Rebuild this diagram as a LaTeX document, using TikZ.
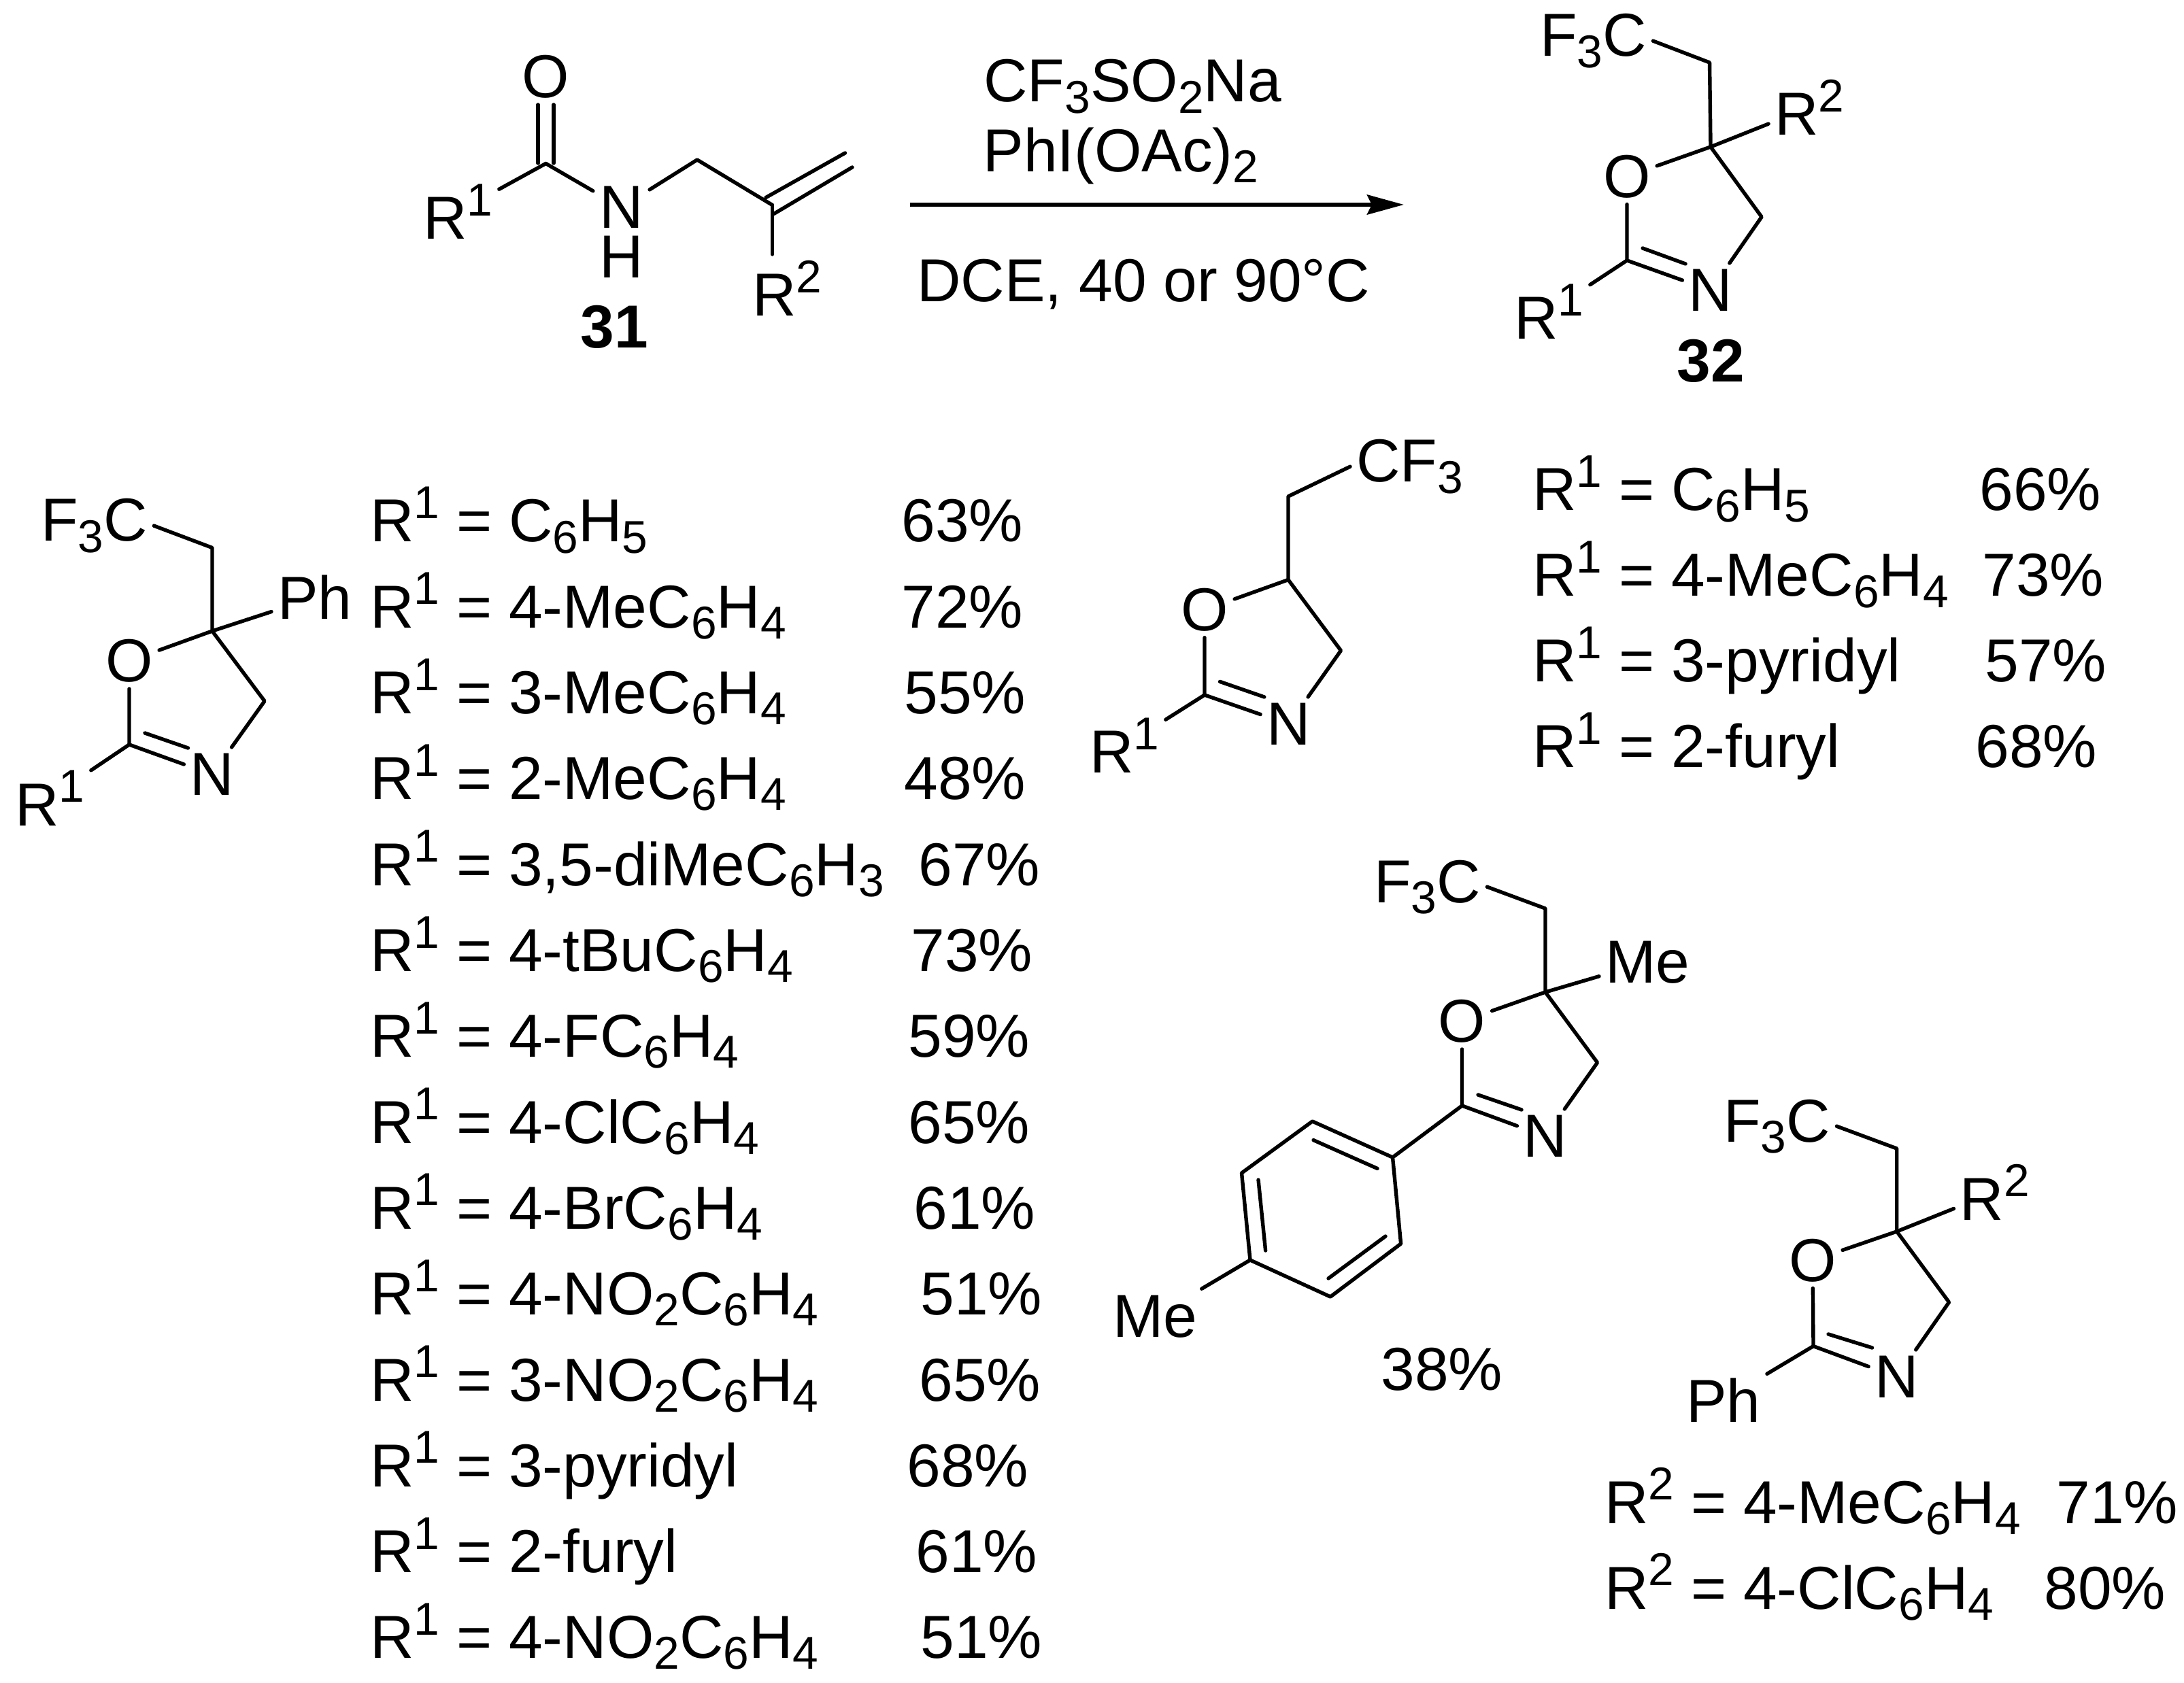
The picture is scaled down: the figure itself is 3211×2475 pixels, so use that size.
\documentclass[tikz,border=0pt]{standalone}
\usepackage{fontspec}
\setmainfont{Liberation Sans}
\usetikzlibrary{arrows.meta}
\newcommand{\sups}[1]{\raisebox{.386em}{\fontsize{9.4}{10}\selectfont #1}}
\newcommand{\subs}[1]{\raisebox{-.18em}{\fontsize{9.4}{10}\selectfont #1}}
\begin{document}
\begin{tikzpicture}[
    x=0.0048832cm, y=-0.0048832cm,
    font=\fontsize{12.4}{14}\selectfont,
    bond/.style={line width=0.75pt, line cap=round, line join=round},
    atom/.style={inner sep=1.1pt},
    grp/.style={inner sep=1.1pt, anchor=base west},
    tbl/.style={inner sep=0pt, anchor=base west},
    rxn/.style={line width=0.83pt, -{Stealth[length=0.264cm, width=0.142cm, inset=0.034cm]}}
]
    \useasboundingbox (0,0) rectangle (3211,2475);

    % Substrate 31
    \node[atom] (o31) at (802.5,113) {O};
    \node[atom] (n31) at (913.5,305) {N};
    \node[atom, inner sep=0pt] (h31) at (913.5,378) {H};
    \node[grp] (ra31) at (613,352) {R\sups{1}};
    \node[grp] (rb31) at (1097,465) {R\sups{2}};
    \node[tbl, font=\fontsize{12.4}{14}\selectfont\bfseries] (lab31) at (852,512) {31};
    \coordinate (co31) at (802.5,240.5);
    \coordinate (cha31) at (1025,235);
    \coordinate (cv31) at (1135.5,301.5);
    \coordinate (dba31) at (791,240);
    \coordinate (dbb31) at (814,240);
    \coordinate (ena31) at (1126,290.5);
    \coordinate (enb31) at (1242.5,225);
    \coordinate (enc31) at (1137.7,314.5);
    \coordinate (end31) at (1253,246);
    \draw[bond] (dba31) -- (dba31 |- o31.south);
    \draw[bond] (dbb31) -- (dbb31 |- o31.south);
    \draw[bond] (co31) -- (ra31);
    \draw[bond] (co31) -- (n31);
    \draw[bond] (n31) -- (cha31) -- (cv31);
    \draw[bond] (ena31) -- (enb31);
    \draw[bond] (enc31) -- (end31);
    \draw[bond] (cv31) -- (cv31 |- rb31.north);

    % Reaction arrow and conditions
    \coordinate (arra) at (1338,301);
    \coordinate (arrb) at (2064,301);
    \draw[rxn] (arra) -- (arrb);
    \node[tbl] (reaga) at (1445,150) {CF\subs{3}SO\subs{2}Na};
    \node[tbl] (reagb) at (1444,252.7) {PhI(OAc)\subs{2}};
    \node[tbl] (reagc) at (1347,444) {DCE, 40 or 90°C};

    % Product 32
    \node[atom] (o32) at (2392,259.5) {O};
    \node[atom] (n32) at (2515,427) {N};
    \node[grp] (f32) at (2255,83) {F\subs{3}C};
    \node[grp] (rb32) at (2600,199) {R\sups{2}};
    \node[grp] (ra32) at (2217,499) {R\sups{1}};
    \node[tbl, font=\fontsize{12.4}{14}\selectfont\bfseries] (lab32) at (2464,562) {32};
    \coordinate (cq32) at (2515,216);
    \coordinate (cha32) at (2513.5,92);
    \coordinate (chb32) at (2590,319);
    \coordinate (cc32) at (2392,383);
    \coordinate (dba32) at (2415,365);
    \coordinate (dbb32) at (2478,388);
    \draw[bond] (f32.east) -- (cha32) -- (cq32);
    \draw[bond] (cq32) -- (rb32);
    \draw[bond] (cq32) -- (o32);
    \draw[bond] (cq32) -- (chb32) -- (n32);
    \draw[bond] (o32) -- (cc32) -- (n32);
    \draw[bond] (dba32) -- (dbb32);
    \draw[bond] (cc32) -- (ra32);

    % Phenyl oxazoline and its list
    \node[atom] (o1) at (190,972) {O};
    \node[atom] (n1) at (312,1139) {N};
    \node[grp] (f1) at (51,796) {F\subs{3}C};
    \node[grp] (ph1) at (399,911) {Ph};
    \node[grp] (ra1) at (13,1214) {R\sups{1}};
    \coordinate (cq1) at (312,928);
    \coordinate (cha1) at (312,805.5);
    \coordinate (chb1) at (389,1031);
    \coordinate (cc1) at (190,1095);
    \coordinate (dba1) at (213,1078);
    \coordinate (dbb1) at (276.5,1100);
    \draw[bond] (f1.east) -- (cha1) -- (cq1);
    \draw[bond] (cq1) -- (ph1);
    \draw[bond] (cq1) -- (o1);
    \draw[bond] (cq1) -- (chb1) -- (n1);
    \draw[bond] (o1) -- (cc1) -- (n1);
    \draw[bond] (dba1) -- (dbb1);
    \draw[bond] (cc1) -- (ra1);
    \foreach \i/\grpname/\yld/\yx in {
        0/{C\subs{6}H\subs{5}}/63/1324, 1/{4-MeC\subs{6}H\subs{4}}/72/1324,
        2/{3-MeC\subs{6}H\subs{4}}/55/1328, 3/{2-MeC\subs{6}H\subs{4}}/48/1328,
        4/{3,5-diMeC\subs{6}H\subs{3}}/67/1349, 5/{4-tBuC\subs{6}H\subs{4}}/73/1338,
        6/{4-FC\subs{6}H\subs{4}}/59/1334, 7/{4-ClC\subs{6}H\subs{4}}/65/1334,
        8/{4-BrC\subs{6}H\subs{4}}/61/1342, 9/{4-NO\subs{2}C\subs{6}H\subs{4}}/51/1352,
        10/{3-NO\subs{2}C\subs{6}H\subs{4}}/65/1350, 11/{3-pyridyl}/68/1332,
        12/{2-furyl}/61/1345, 13/{4-NO\subs{2}C\subs{6}H\subs{4}}/51/1352} {
        \pgfmathsetmacro{\yy}{797+126.3*\i}
        \node[tbl] (rowa\i) at (543,\yy) {R\sups{1} = \grpname};
        \node[tbl] (ylda\i) at (\yx,\yy) {\yld\%};
    }

    % CF3 oxazoline and its list
    \node[atom] (o2) at (1771,896.7) {O};
    \node[atom] (n2) at (1894.7,1065) {N};
    \node[grp] (f2) at (1985,709) {CF\subs{3}};
    \node[grp] (ra2) at (1593,1137) {R\sups{1}};
    \coordinate (cq2) at (1894,852.6);
    \coordinate (cha2) at (1894,730);
    \coordinate (chb2) at (1971.4,956.7);
    \coordinate (cc2) at (1771,1022);
    \coordinate (dba2) at (1793.5,1002.4);
    \coordinate (dbb2) at (1858.8,1025);
    \draw[bond] (f2.west) -- (cha2) -- (cq2);
    \draw[bond] (cq2) -- (o2);
    \draw[bond] (cq2) -- (chb2) -- (n2);
    \draw[bond] (o2) -- (cc2) -- (n2);
    \draw[bond] (dba2) -- (dbb2);
    \draw[bond] (cc2) -- (ra2);
    \foreach \i/\grpname/\yld/\yx in {
        0/{C\subs{6}H\subs{5}}/66/2909, 1/{4-MeC\subs{6}H\subs{4}}/73/2913,
        2/{3-pyridyl}/57/2917, 3/{2-furyl}/68/2903} {
        \pgfmathsetmacro{\yy}{751+126*\i}
        \node[tbl] (rowb\i) at (2252,\yy) {R\sups{1} = \grpname};
        \node[tbl] (yldb\i) at (\yx,\yy) {\yld\%};
    }

    % Tolyl oxazoline
    \node[atom] (o3) at (2149.5,1502) {O};
    \node[atom] (n3) at (2272,1671) {N};
    \node[grp] (f3) at (2011,1327) {F\subs{3}C};
    \node[grp] (me3) at (2351,1445) {Me};
    \node[grp] (mea3) at (1627,1966) {Me};
    \node[tbl] (yld3) at (2029,2044) {38\%};
    \coordinate (cq3) at (2272,1459);
    \coordinate (cha3) at (2272,1336);
    \coordinate (chb3) at (2348.5,1562.6);
    \coordinate (cc3) at (2149.5,1626);
    \coordinate (dba3) at (2173,1610);
    \coordinate (dbb3) at (2237,1632);
    \draw[bond] (f3.east) -- (cha3) -- (cq3);
    \draw[bond] (cq3) -- (me3);
    \draw[bond] (cq3) -- (o3);
    \draw[bond] (cq3) -- (chb3) -- (n3);
    \draw[bond] (o3) -- (cc3) -- (n3);
    \draw[bond] (dba3) -- (dbb3);
    \coordinate (ara) at (2047.5,1702);
    \coordinate (arb) at (1929.5,1649);
    \coordinate (arc) at (1825.5,1725);
    \coordinate (ard) at (1838,1853);
    \coordinate (are) at (1956,1907);
    \coordinate (arf) at (2059.6,1829);
    \draw[bond] (cc3) -- (ara) -- (arb) -- (arc) -- (ard) -- (are) -- (arf) -- (ara);
    \draw[bond] (ard) -- (mea3);
    % inner lines of the ring
    \coordinate (ina) at (1931,1676.6);
    \coordinate (inb) at (2025,1718.4);
    \coordinate (inc) at (1850,1735);
    \coordinate (ind) at (1860.6,1839);
    \coordinate (ine) at (1953,1880);
    \coordinate (inf) at (2037,1818);
    \draw[bond] (ina) -- (inb);
    \draw[bond] (inc) -- (ind);
    \draw[bond] (ine) -- (inf);

    % 2-Phenyl oxazoline and its list
    \node[atom] (o4) at (2665,1853.5) {O};
    \node[atom] (n4) at (2788.7,2025) {N};
    \node[grp] (f4) at (2525,1679) {F\subs{3}C};
    \node[grp] (rb4) at (2872.5,1794) {R\sups{2}};
    \node[grp] (ph4) at (2470,2091) {Ph};
    \coordinate (cq4) at (2788.7,1811);
    \coordinate (cha4) at (2788.7,1689);
    \coordinate (chb4) at (2865.5,1915);
    \coordinate (cc4) at (2666,1979.6);
    \coordinate (dba4) at (2688,1962);
    \coordinate (dbb4) at (2752.5,1982);
    \draw[bond] (f4.east) -- (cha4) -- (cq4);
    \draw[bond] (cq4) -- (rb4);
    \draw[bond] (cq4) -- (o4);
    \draw[bond] (cq4) -- (chb4) -- (n4);
    \draw[bond] (o4) -- (cc4) -- (n4);
    \draw[bond] (dba4) -- (dbb4);
    \draw[bond] (cc4) -- (ph4);
    \node[tbl] (rowc0) at (2358,2240) {R\sups{2} = 4-MeC\subs{6}H\subs{4}};
    \node[tbl] (yldc0) at (3022,2240) {71\%};
    \node[tbl] (rowc1) at (2358,2366) {R\sups{2} = 4-ClC\subs{6}H\subs{4}};
    \node[tbl] (yldc1) at (3004,2366) {80\%};
\end{tikzpicture}
\end{document}
